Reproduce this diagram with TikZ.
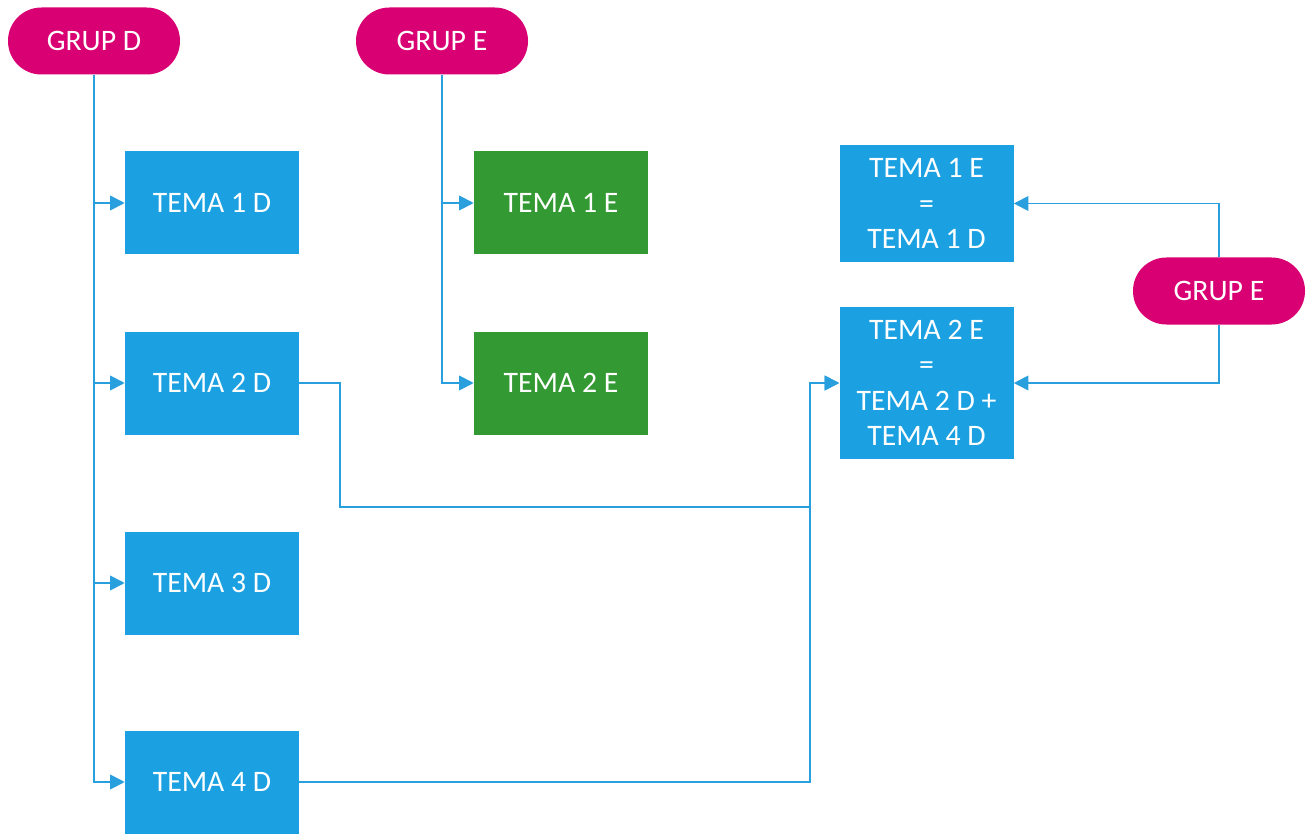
\documentclass[tikz,border=0pt]{standalone}
\usepackage{fontspec}
\setmainfont{Carlito}
\usetikzlibrary{positioning,arrows.meta}
\definecolor{grupmagenta}{HTML}{D80073}
\definecolor{temablau}{HTML}{1BA1E2}
\definecolor{temaverd}{HTML}{339933}
\definecolor{linia}{HTML}{2A9FDD}

\tikzset{
  grup/.style={fill=grupmagenta, text=white, rounded corners=25pt,
    minimum width=129pt, minimum height=50.25pt, inner sep=0pt},
  tema/.style={fill=temablau, text=white, minimum width=130.5pt,
    minimum height=77.25pt, align=center, inner sep=0pt},
  temaverd/.style={tema, fill=temaverd},
  fletxa/.style={draw=linia, line width=1.4pt,
    -{Triangle[length=11pt,width=11pt]}}
}

\begin{document}
\begin{tikzpicture}[x=0.75pt, y=-0.75pt,
    font=\fontsize{22.3}{26.5}\selectfont]
  \useasboundingbox (0,0) rectangle (1309,834);

  %% grups
  \node[grup] (grupD) at (94,41) {GRUP D};
  \node[grup] (grupE) at (442,41) {GRUP E};
  \node[grup] (grupEb) at (1219,291) {GRUP E};

  %% temes grup D
  \node[tema] (t1d) at (212,203) {TEMA 1 D};
  \node[tema] (t2d) at (212,383) {TEMA 2 D};
  \node[tema] (t3d) at (212,583) {TEMA 3 D};
  \node[tema] (t4d) at (212,782) {TEMA 4 D};

  %% temes grup E
  \node[temaverd] (t1e) at (561,203) {TEMA 1 E};
  \node[temaverd] (t2e) at (561,383) {TEMA 2 E};

  % equivalencies
  \node[tema, minimum height=87.75pt] (eq1) at (926.5,203.5)
    {TEMA 1 E\\=\\TEMA 1 D};
  \node[tema, minimum height=114pt] (eq2) at (926.5,383)
    {TEMA 2 E\\=\\TEMA 2 D +\\TEMA 4 D};

  \draw[fletxa] (grupD.south) |- (t1d.west);
  \draw[fletxa] (grupD.south) |- (t2d.west);
  \draw[fletxa] (grupD.south) |- (t3d.west);
  \draw[fletxa] (grupD.south) |- (t4d.west);

  \draw[fletxa] (grupE.south) |- (t1e.west);
  \draw[fletxa] (grupE.south) |- (t2e.west);

  \draw[fletxa] (t2d.east) -- (340,383) |- (810,507) |- (eq2.west);
  \draw[fletxa] (t4d.east) -- (810,782) |- (eq2.west);

  \draw[fletxa] (grupEb.north) |- (eq1.east);
  \draw[fletxa] (grupEb.south) |- (eq2.east);
\end{tikzpicture}
\end{document}
